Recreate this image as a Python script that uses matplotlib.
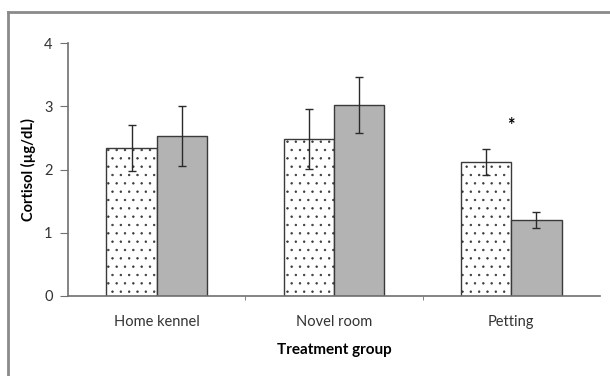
"""
Cortisol by treatment group, two sessions (dotted = pre, gray = post)
"""
import numpy as np
import matplotlib.pyplot as plt
from matplotlib.lines import Line2D

plt.rcParams['font.family'] = ['Lato', 'DejaVu Sans']
plt.rcParams['hatch.color'] = '#c8c8c8'
plt.rcParams['hatch.linewidth'] = 0.5

groups = ['Home kennel', 'Novel room', 'Petting']
pre = [2.34, 2.48, 2.12]      # dotted bars
pre_err = [0.36, 0.47, 0.20]
post = [2.53, 3.02, 1.20]     # gray bars
post_err = [0.47, 0.45, 0.13]
signif = ['', '', '*']

x = np.arange(len(groups))
w = 0.283

fig = plt.figure(figsize=(6.1, 3.76), dpi=100)
ax = fig.add_axes([0.1115, 0.2128, 0.8721, 0.6728])

edge = '#3a3a3a'
ax.bar(x - w/2, pre, w, color='white', edgecolor=edge, linewidth=1.0, hatch='..',
       yerr=pre_err, error_kw=dict(ecolor='#2a2a2a', elinewidth=1.0, capsize=3, capthick=1.0))
ax.bar(x + w/2, post, w, color='#b3b3b3', edgecolor=edge, linewidth=1.0,
       yerr=post_err, error_kw=dict(ecolor='#2a2a2a', elinewidth=1.0, capsize=3, capthick=1.0))

# significance mark
for i, s in enumerate(signif):
    if s:
        ax.text(x[i], 2.7, s, ha='center', va='center', fontsize=13, fontweight='bold')

ax.set_xlim(-0.5, 2.5)
ax.set_ylim(0, 4)
ax.set_yticks([0, 1, 2, 3, 4])
ax.set_xticks(x)
ax.set_xticklabels(groups, fontsize=10.5, color='#333333')
ax.set_xticks([0.5, 1.5], minor=True)
ax.tick_params(axis='x', which='major', length=0, pad=14)
ax.tick_params(axis='x', which='minor', direction='out', length=3, color='#707070')
ax.tick_params(axis='y', length=6, color='#707070', labelsize=10.5, labelcolor='#333333', pad=5)
for s in ['top', 'right']:
    ax.spines[s].set_visible(False)
for s in ['left', 'bottom']:
    ax.spines[s].set_color('#707070')
    ax.spines[s].set_linewidth(1.2)

ax.set_xlabel('Treatment group', fontsize=11, fontweight='bold', labelpad=10)
ax.set_ylabel('Cortisol (µg/dL)', fontsize=10.5, fontweight='bold', labelpad=6)

# outer frame (top and left only)
fig.add_artist(Line2D([8/610, 1], [1 - 12/376] * 2, color='#8a8a8a', linewidth=2.0))
fig.add_artist(Line2D([8/610] * 2, [0, 1 - 12/376], color='#8a8a8a', linewidth=2.0))

fig.savefig('out.png', dpi=100)
